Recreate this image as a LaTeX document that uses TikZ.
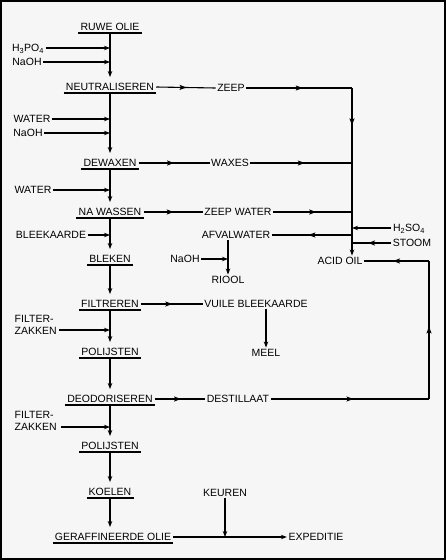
\documentclass[tikz,border=0pt]{standalone}
\usepackage{fontspec}
\setmainfont{Liberation Sans}
\usepackage{tikz}
\usetikzlibrary{arrows.meta, positioning, calc, decorations.markings}
\definecolor{papercolor}{RGB}{246,246,246}
\tikzset{
  >={Stealth[length=6pt, width=4.5pt]},
  flowline/.style={draw=black, line width=1.1pt},
  stepnode/.style={inner xsep=2pt, inner ysep=2pt, text height=7.5pt,
                   text depth=0pt,
                   append after command={(\tikzlastnode.south west)
                     edge[flowline] (\tikzlastnode.south east)}},
  item/.style={inner sep=1.5pt, text height=7.5pt, text depth=0pt},
  arrow/.style={flowline, ->},
  midarrow/.style={flowline, postaction={decorate},
                   decoration={markings, mark=at position #1 with
                     {\fill[black] (3.5pt,0) -- (-3.5pt,2.6pt) -- (-2pt,0)
                        -- (-3.5pt,-2.6pt) -- cycle;}}},
  midarrow/.default=0.5,
}

\begin{document}
\begin{tikzpicture}[x=1pt, y=-1pt, font=\fontsize{10.5}{12}\selectfont]
  % Paper and frame
  \useasboundingbox (0,0) rectangle (446,560);
  \fill[papercolor] (0,0) rectangle (446,560);
  \draw[line width=2pt] (1,1) rectangle (445,559);

  % Process steps
  \node[stepnode] (ruwe)   at (110,27)  {RUWE OLIE};
  \node[stepnode] (neutr)  at (110,87)  {NEUTRALISEREN};
  \node[stepnode] (dewax)  at (110,163) {DEWAXEN};
  \node[stepnode] (nawas)  at (110,212) {NA WASSEN};
  \node[stepnode] (bleken) at (110,259) {BLEKEN};
  \node[stepnode] (filtr)  at (110,304) {FILTREREN};
  \node[stepnode] (polij1) at (110,352) {POLIJSTEN};
  \node[stepnode] (deodor) at (110,399) {DEODORISEREN};
  \node[stepnode] (polij2) at (110,446) {POLIJSTEN};
  \node[stepnode] (koelen) at (110,492) {KOELEN};
  \node[stepnode] (geraf)  at (113,537) {GERAFFINEERDE OLIE};

  % Main line
  \foreach \a/\b in {ruwe/neutr, neutr/dewax, dewax/nawas, nawas/bleken,
                     bleken/filtr, filtr/polij1, polij1/deodor,
                     deodor/polij2, polij2/koelen, koelen/geraf}
    \draw[arrow, shorten >=4pt] (\a.south -| ruwe) -- (ruwe |- \b.north);

  % Inputs
  \node[item] (h3po4)  at (28,48)  {H\textsubscript{3}PO\textsubscript{4}};
  \node[item] (naoh1)  at (27,62)  {NaOH};
  \node[item] (water1) at (32,119) {WATER};
  \node[item] (naoh2)  at (28,133) {NaOH};
  \node[item] (water2) at (33,190) {WATER};
  \node[item] (bleek)  at (51,235) {BLEEKAARDE};
  \node[item, align=left, anchor=west] (filt1) at (13,331) {FILTER-\\ZAKKEN};
  \node[item, align=left, anchor=west] (filt2) at (13,427) {FILTER-\\ZAKKEN};

  \foreach \n in {h3po4, naoh1, water1, naoh2, water2, bleek}
    \draw[arrow] (\n.east) -- (\n.east -| ruwe);
  \draw[arrow] ($(filt1.east)+(1,-1)$) coordinate (f1) -- (f1 -| ruwe);
  \draw[arrow] ($(filt2.east)+(3,0)$) coordinate (f2) -- (f2 -| ruwe);

  % Side products
  \node[item] (zeep)   at (231,88)  {ZEEP};
  \node[item] (waxes)  at (230,163) {WAXES};
  \node[item] (zeepw)  at (238,212) {ZEEP WATER};
  \node[item] (afval)  at (236,235) {AFVALWATER};
  \node[item] (naoh3)  at (185,259) {NaOH};
  \node[item] (riool)  at (228,280) {RIOOL};
  \node[item] (vuile)  at (256,304) {VUILE BLEEKAARDE};
  \node[item] (meel)   at (266,353) {MEEL};
  \node[item] (destil) at (238,399) {DESTILLAAT};
  \node[item] (keuren) at (225,493) {KEUREN};
  \node[item] (exped)  at (316,537) {EXPEDITIE};
  \node[item] (acid)   at (340,261) {ACID OIL};
  \node[item] (h2so4)  at (409,228) {H\textsubscript{2}SO\textsubscript{4}};
  \node[item] (stoom)  at (412,243) {STOOM};

  \foreach \a/\b in {neutr/zeep, dewax/waxes, nawas/zeepw, filtr/vuile,
                     deodor/destil}
    \draw[midarrow=0.45] (\a.east) -- (\b.west);

  % Acid oil collector
  \coordinate (coll) at (352,88);
  \coordinate (ret)  at (429,399);
  \draw[midarrow] (zeep) -- (coll);
  \draw[midarrow=0.45] (coll) -- (coll |- waxes);
  \draw[flowline] (coll |- waxes) -- (coll |- stoom);
  \draw[midarrow] (waxes) -- (coll |- waxes);
  \draw[midarrow] (zeepw) -- (coll |- zeepw);
  \draw[midarrow] (coll |- afval) -- (afval);
  \draw[arrow] (h2so4) -- (coll |- h2so4);
  \draw[midarrow] (stoom) -- (coll |- stoom);
  \draw[arrow] (coll |- stoom) -- (coll |- acid.north);

  % Afvalwater and bleekaarde
  \draw[arrow] (riool |- afval.south) -- (riool);
  \draw[arrow] (naoh3) -- (naoh3 -| riool);
  \draw[arrow] (meel |- vuile.south) -- (meel);

  % Destillaat back to acid oil
  \draw[midarrow] (destil) -- (ret);
  \draw[midarrow] (ret) -- (ret |- acid);
  \draw[midarrow] (ret |- acid) -- (acid);

  % Expeditie
  \draw[arrow] (keuren) -- (keuren |- geraf);
  \draw[arrow] (geraf) -- (exped);
\end{tikzpicture}
\end{document}
